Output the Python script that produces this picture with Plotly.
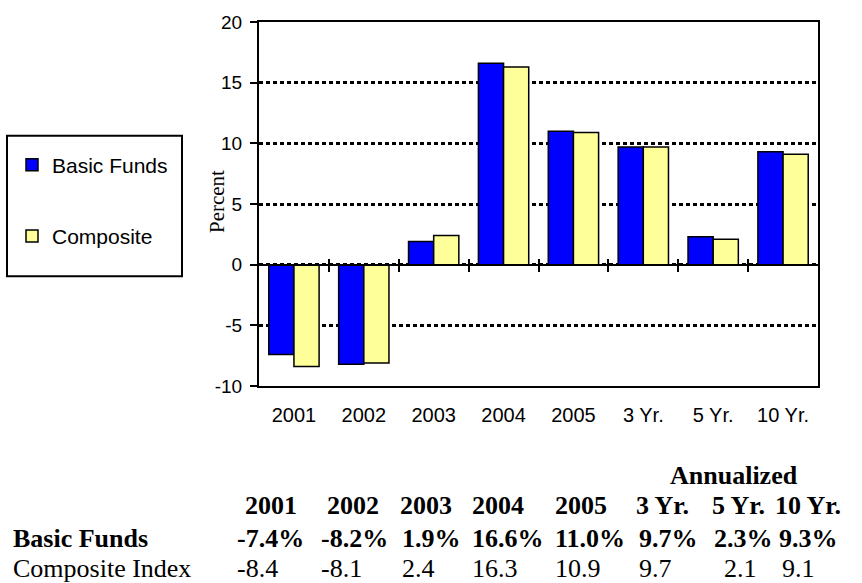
import plotly.graph_objects as go

# ---- data ----
categories = ["2001", "2002", "2003", "2004", "2005", "3 Yr.", "5 Yr.", "10 Yr."]
basic_funds = [-7.4, -8.2, 1.9, 16.6, 11.0, 9.7, 2.3, 9.3]
composite = [-8.4, -8.1, 2.4, 16.3, 10.9, 9.7, 2.1, 9.1]
y_ticks = [-10, -5, 0, 5, 10, 15, 20]
y_tick_labels = ["-10", "-5", "0", "5", "10", "15", "20"]
y_range = [-10, 20]
table_headers = ["2001", "2002", "2003", "2004", "2005", "3 Yr.", "5 Yr.", "10 Yr."]

# ---- layout constants (pixels) ----
W, H = 862, 583
L, R, T, B = 259, 818, 18, 386


def px(x):
    return (x - L) / (R - L)


def py(y):
    return (B - y) / (B - T)


SANS = "Liberation Sans, Arial, sans-serif"
SERIF = "Liberation Serif, Times New Roman, serif"

fig = go.Figure()
fig.add_trace(go.Bar(
    name="Basic Funds", x=categories, y=basic_funds,
    marker=dict(color="#0000FF", line=dict(color="black", width=1.5)),
    legendgroup="g1",
))
fig.add_trace(go.Bar(
    name="Composite", x=categories, y=composite,
    marker=dict(color="#FFFF99", line=dict(color="black", width=1.5)),
    legendgroup="g2",
))
# invisible helpers for the zero-line axes
for ax in ["x2", "x3"]:
    fig.add_trace(go.Scatter(x=[], y=[], xaxis=ax, yaxis="y", showlegend=False, hoverinfo="skip"))

n = len(categories)
boundaries = [i + 0.5 for i in range(n - 1)]
zero_pos = (0 - y_range[0]) / (y_range[1] - y_range[0])

# table annotations
annotations = []
val_left = [235, 319, 400, 470, 553, 637, 712, 777]
hdr_left = [243, 325, 398, 470, 553, 634, 710, 773]
comp_left = [235, 319, 400, 470, 553, 637, 722, 780]
row_y = {"ann": 476, "hdr": 507, "basic": 540, "comp": 571}


def add_text(x, y, text, size=26, bold=False):
    annotations.append(dict(
        x=px(x), y=py(y), xref="paper", yref="paper",
        text=("<b>%s</b>" % text) if bold else text,
        showarrow=False, xanchor="left", yanchor="middle",
        font=dict(family=SERIF, size=size, color="black"),
    ))


add_text(668, row_y["ann"], "Annualized", bold=True)
for i, h in enumerate(table_headers):
    add_text(hdr_left[i], row_y["hdr"], h, bold=True)
add_text(11, row_y["basic"], "Basic Funds", bold=True)
add_text(11, row_y["comp"], "Composite Index")
for i, v in enumerate(basic_funds):
    add_text(val_left[i], row_y["basic"], "%.1f%%" % v, bold=True)
for i, v in enumerate(composite):
    add_text(comp_left[i], row_y["comp"], "%.1f" % v)

# y-axis title as rotated text
annotations.append(dict(
    x=px(217), y=py(200), xref="paper", yref="paper", text="Percent",
    textangle=-90, showarrow=False, xanchor="center", yanchor="middle",
    font=dict(family=SERIF, size=21, color="black"),
))

fig.update_layout(
    width=W, height=H,
    margin=dict(l=L, r=W - R, t=T, b=H - B, pad=0),
    paper_bgcolor="white", plot_bgcolor="white",
    barmode="group", bargap=0.28, bargroupgap=0,
    showlegend=True,
    legend=dict(
        x=px(12), y=py(142), xanchor="left", yanchor="top",
        font=dict(family=SANS, size=21, color="black"),
        bgcolor="rgba(0,0,0,0)", borderwidth=0,
        traceorder="grouped", tracegroupgap=41,
    ),
    xaxis=dict(
        type="category", showline=True, linecolor="black", linewidth=2, mirror=True,
        ticks="", showgrid=False, zeroline=False,
        tickfont=dict(family=SANS, size=20, color="black"),
        ticklabelstandoff=10,
    ),
    xaxis2=dict(
        overlaying="x", anchor="free", position=zero_pos, range=[-0.5, n - 0.5],
        showline=True, linecolor="black", linewidth=2,
        tickmode="array", tickvals=boundaries, ticks="outside", ticklen=6,
        tickwidth=1.5, tickcolor="black", showticklabels=False,
        showgrid=False, zeroline=False,
    ),
    xaxis3=dict(
        overlaying="x", anchor="free", position=zero_pos, range=[-0.5, n - 0.5],
        showline=False,
        tickmode="array", tickvals=boundaries, ticks="inside", ticklen=6,
        tickwidth=1.5, tickcolor="black", showticklabels=False,
        showgrid=False, zeroline=False,
    ),
    yaxis=dict(
        range=y_range, tickmode="array", tickvals=y_ticks, ticktext=y_tick_labels,
        showline=True, linecolor="black", linewidth=2, mirror=True,
        ticks="outside", ticklen=7, tickwidth=1.5, tickcolor="black",
        showgrid=True, gridcolor="black", gridwidth=2.5, griddash="4px,3px",
        zeroline=False,
        tickfont=dict(family=SANS, size=19, color="black"),
        ticklabelstandoff=4,
    ),
    shapes=[dict(
        type="rect", xref="paper", yref="paper",
        x0=px(7), x1=px(182), y0=py(275), y1=py(133),
        line=dict(color="black", width=2), fillcolor="white", layer="below",
    )],
    annotations=annotations,
)

fig.write_html("out.html", config={"displayModeBar": False},
               post_script="document.body.style.margin='0';")
